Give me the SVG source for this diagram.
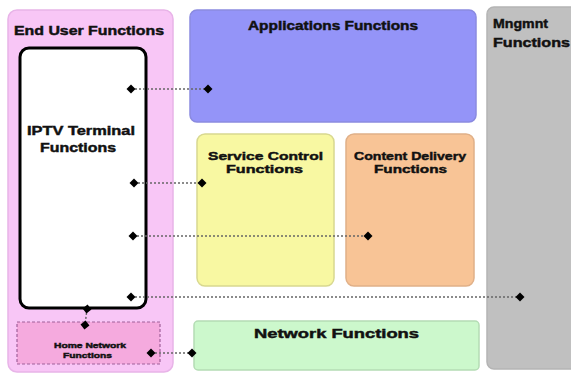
<svg xmlns="http://www.w3.org/2000/svg" width="571" height="378" viewBox="0 0 571 378">
<defs>
<style>
text{font-family:"Liberation Sans",Arial,sans-serif;font-weight:bold;fill:#111;stroke:#111;stroke-width:0.45}
.box{stroke-width:1.5}
.conn{stroke:#666;stroke-width:1.5;stroke-dasharray:2 2;fill:none;marker-start:url(#dia);marker-end:url(#dia)}
</style>
<marker id="dia" viewBox="-5 -5 10 10" markerWidth="10" markerHeight="10" markerUnits="userSpaceOnUse" refX="0" refY="0" orient="auto">
<path d="M0,-4.5 L4.5,0 L0,4.5 L-4.5,0 Z" fill="#000"/>
</marker>
</defs>
<rect width="571" height="378" fill="#fff"/>
<g id="mngmnt">
<rect class="box" x="487" y="7" width="95" height="362" rx="7" fill="#c0c0c0" stroke="#b4b4b4"/>
<text x="493" y="28" font-size="13" textLength="55" lengthAdjust="spacingAndGlyphs">Mngmnt</text>
<text x="493" y="47" font-size="13" textLength="77" lengthAdjust="spacingAndGlyphs">Functions</text>
</g>
<g id="end-user">
<rect class="box" x="8" y="10" width="165" height="362" rx="9" fill="#f8c6f6" stroke="#e8b4e8"/>
<text x="14" y="35" font-size="12.5" textLength="150" lengthAdjust="spacingAndGlyphs">End User Functions</text>
</g>
<g id="iptv-terminal">
<rect x="20" y="48" width="126" height="260" rx="9" fill="#fff" stroke="#000" stroke-width="3"/>
<text x="27" y="135" font-size="13" textLength="108" lengthAdjust="spacingAndGlyphs">IPTV Terminal</text>
<text x="40" y="152" font-size="13" textLength="76" lengthAdjust="spacingAndGlyphs">Functions</text>
</g>
<g id="home-network">
<rect x="17" y="322" width="143" height="42" fill="#f5aade" stroke="#a0609a" stroke-width="1.2" stroke-dasharray="3 2"/>
<text x="54" y="348" font-size="7.5" stroke-width="0.2" textLength="72" lengthAdjust="spacingAndGlyphs">Home Network</text>
<text x="63" y="358" font-size="7.5" stroke-width="0.2" textLength="49" lengthAdjust="spacingAndGlyphs">Functions</text>
</g>
<g id="applications">
<rect class="box" x="190" y="10" width="286" height="112" rx="7" fill="#9494f8" stroke="#8a8ae0"/>
<text x="248" y="30" font-size="12.5" textLength="170" lengthAdjust="spacingAndGlyphs">Applications Functions</text>
</g>
<g id="service-control">
<rect class="box" x="197" y="134" width="137" height="152" rx="8" fill="#f8f8a2" stroke="#d8d890"/>
<text x="208" y="159.5" font-size="11.5" textLength="115" lengthAdjust="spacingAndGlyphs">Service Control</text>
<text x="226" y="173" font-size="11.5" textLength="77" lengthAdjust="spacingAndGlyphs">Functions</text>
</g>
<g id="content-delivery">
<rect class="box" x="346" y="134" width="128" height="152" rx="8" fill="#f8c496" stroke="#e0b088"/>
<text x="354" y="159.5" font-size="11.5" textLength="112" lengthAdjust="spacingAndGlyphs">Content Delivery</text>
<text x="374" y="173" font-size="11.5" textLength="73" lengthAdjust="spacingAndGlyphs">Functions</text>
</g>
<g id="network">
<rect class="box" x="194" y="321" width="285" height="49" rx="4" fill="#ccf8cc" stroke="#b4dcb4"/>
<text x="254" y="338" font-size="12.5" textLength="165" lengthAdjust="spacingAndGlyphs">Network Functions</text>
</g>
<g id="connectors">
<path class="conn" d="M131,89 H208"/>
<path class="conn" d="M134,183 H202"/>
<path class="conn" d="M133,236 H368"/>
<path class="conn" d="M131,297 H520"/>
<path class="conn" d="M151,353 H192"/>
<path class="conn" d="M87,309 L85,325"/>
</g>
</svg>
